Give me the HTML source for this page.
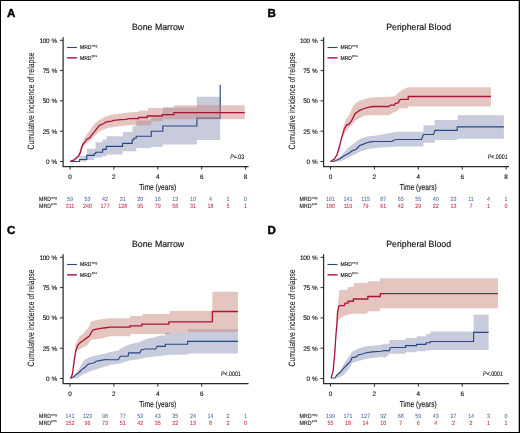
<!DOCTYPE html>
<html><head><meta charset="utf-8"><style>
html,body{margin:0;padding:0;background:#fff;width:520px;height:433px;overflow:hidden}
svg{display:block;will-change:transform}
text{text-rendering:geometricPrecision;font-family:"Liberation Sans", sans-serif}
</style></head><body>
<svg width="520" height="433" viewBox="0 0 520 433" font-family='"Liberation Sans", sans-serif'>
<rect x="0" y="0" width="520" height="433" fill="#fff"/>
<path d="M73,161.5 H79.6 V156 H86.9 V148.8 H95.5 V142.2 H102.6 V139.4 H106.5 V136.25 H122.9 V131.9 H132.5 V126.25 H136.25 V120.6 H151.25 V117.2 H162.8 V107.4 H196.9 V96.8 H220.2 V140 H196.9 V144.4 H162.8 V146.9 H151.25 V148.1 H136.25 V151.25 H122.5 V154.4 H106.5 V156.25 H102 V157.5 H94.25 V160 H86.75 V161.5 Z" fill="#c8cbdc"/>
<path d="M70,161.5 H79.5 V159.5 H86.7 V155.4 H94.25 V153.5 H95.75 V152.25 H102.6 V149.4 H106.2 V146.4 H122.6 V143.3 H132.2 V139.75 H134 V138 H136.25 V136.25 H151.25 V131.25 H162.8 V126 H196.9 V118.1 H220.2 V84.7" fill="none" stroke="#264785" stroke-width="1.15" stroke-linejoin="miter"/>
<path d="M70,161.5 L74,159 L77,156.5 L79,153 L81,146 L82.8,141.2 L86.9,134.2 L91.1,128.6 L95.9,122.3 L100.1,119.4 L104.2,117.3 L109.1,115.3 L113,114.6 L119.25,113.8 L128,112.4 L139,111.8 V110.5 H148 V108 H163 V107.6 H174 V105.2 H244.8 V119.2 H163 V121.2 H151.25 V125.3 H136.25 L128,125.2 L111.9,127.3 L107.7,128 L102.9,129.7 L98,132.5 L93.9,136.7 L89,141.5 L84.2,145 L82,150 L80,156 L77,160 L73,161.5 Z" fill="rgb(200,132,122)" fill-opacity="0.473"/>
<path d="M70,161.5 L72,160.6 L73.8,160.2 L75.6,158.4 L78.6,156 L80.4,152.4 L81.6,147.6 L82.8,144.6 L85.2,141.6 L86.9,139.2 L89.7,137.9 L91.1,135.8 L93.9,132.3 L96.6,128.9 L99.4,125.4 L102.9,124 L106.3,121.9 L111.9,121.1 L113.75,120.4 L120.5,119.7 L126.25,119.3 L128.75,118.6 H138.5 V117.5 H147.3 V116 H162.2 V114.6 H173.9 V112.7 H244.8" fill="none" stroke="#ad1238" stroke-width="1.3" stroke-linejoin="miter"/>
<g transform="translate(0,0)">
<text x="7.10" y="16.80" font-size="11.6" fill="#000"  text-anchor="start" font-weight="bold"  stroke="#000" stroke-width="0.4">A</text>
<text transform="translate(158.1,30.3) scale(0.975,1)" font-size="9" fill="#111" stroke="#111" stroke-width="0.15" text-anchor="middle">Bone Marrow</text>
<text transform="translate(34.2,101) rotate(-90) scale(0.745,1)" font-size="9.2" fill="#111" stroke="#111" stroke-width="0.05" text-anchor="middle">Cumulative incidence of relapse</text>
<path d="M63.1,37.3 V167.1 M62.5,166.5 H248.5" stroke="#2b2b2b" stroke-width="1.25" fill="none"/>
<path d="M60,40.30 H63" stroke="#2b2b2b" stroke-width="1"/>
<text x="56.90" y="42.70" font-size="6.4" fill="#111" stroke="#111" stroke-width="0.12" text-anchor="end" font-weight="normal"  letter-spacing="-0.32" word-spacing="0.9">100 %</text>
<path d="M60,70.60 H63" stroke="#2b2b2b" stroke-width="1"/>
<text x="56.90" y="73.00" font-size="6.4" fill="#111" stroke="#111" stroke-width="0.12" text-anchor="end" font-weight="normal"  letter-spacing="-0.32" word-spacing="0.9">75 %</text>
<path d="M60,100.90 H63" stroke="#2b2b2b" stroke-width="1"/>
<text x="56.90" y="103.30" font-size="6.4" fill="#111" stroke="#111" stroke-width="0.12" text-anchor="end" font-weight="normal"  letter-spacing="-0.32" word-spacing="0.9">50 %</text>
<path d="M60,131.20 H63" stroke="#2b2b2b" stroke-width="1"/>
<text x="56.90" y="133.60" font-size="6.4" fill="#111" stroke="#111" stroke-width="0.12" text-anchor="end" font-weight="normal"  letter-spacing="-0.32" word-spacing="0.9">25 %</text>
<path d="M60,161.50 H63" stroke="#2b2b2b" stroke-width="1"/>
<text x="56.90" y="163.90" font-size="6.4" fill="#111" stroke="#111" stroke-width="0.12" text-anchor="end" font-weight="normal"  letter-spacing="-0.32" word-spacing="0.9">0 %</text>
<path d="M70.00,166.5 V169.6" stroke="#2b2b2b" stroke-width="1"/>
<text x="70.00" y="178.60" font-size="6.4" fill="#111" stroke="#111" stroke-width="0.12" text-anchor="middle" font-weight="normal"  >0</text>
<path d="M113.90,166.5 V169.6" stroke="#2b2b2b" stroke-width="1"/>
<text x="113.90" y="178.60" font-size="6.4" fill="#111" stroke="#111" stroke-width="0.12" text-anchor="middle" font-weight="normal"  >2</text>
<path d="M157.80,166.5 V169.6" stroke="#2b2b2b" stroke-width="1"/>
<text x="157.80" y="178.60" font-size="6.4" fill="#111" stroke="#111" stroke-width="0.12" text-anchor="middle" font-weight="normal"  >4</text>
<path d="M201.70,166.5 V169.6" stroke="#2b2b2b" stroke-width="1"/>
<text x="201.70" y="178.60" font-size="6.4" fill="#111" stroke="#111" stroke-width="0.12" text-anchor="middle" font-weight="normal"  >6</text>
<path d="M245.60,166.5 V169.6" stroke="#2b2b2b" stroke-width="1"/>
<text x="245.60" y="178.60" font-size="6.4" fill="#111" stroke="#111" stroke-width="0.12" text-anchor="middle" font-weight="normal"  >8</text>
<text transform="translate(157.7,190) scale(0.77,1)" font-size="8.6" fill="#111" stroke="#111" stroke-width="0.12" text-anchor="middle">Time (years)</text>
<path d="M67,47.5 H77" stroke="#264785" stroke-width="1.1"/>
<path d="M67,57.85 H77" stroke="#ad1238" stroke-width="1.4"/>
<text transform="translate(80,49.2) scale(0.9,1)" font-size="5.6" fill="#111" stroke="#111" stroke-width="0.12">MRD<tspan font-size="3.7" stroke-width="0.05" dx="0.3" dy="-2.3">neg</tspan></text>
<text transform="translate(80,59.5) scale(0.9,1)" font-size="5.6" fill="#111" stroke="#111" stroke-width="0.12">MRD<tspan font-size="3.7" stroke-width="0.05" dx="0.3" dy="-2.3">pos</tspan></text>
<text transform="translate(230.3,159.1) scale(0.8,1)" font-size="6.6" fill="#111" stroke="#111" stroke-width="0.12"><tspan font-style="italic">P</tspan>=.03</text>
<text transform="translate(39,201.1) scale(0.88,1)" font-size="6" fill="#111" stroke="#111" stroke-width="0.12">MRD<tspan font-size="3.9" stroke-width="0.05" dx="0.3" dy="-2.6">neg</tspan></text>
<text transform="translate(39,207.6) scale(0.88,1)" font-size="6" fill="#111" stroke="#111" stroke-width="0.12">MRD<tspan font-size="3.9" stroke-width="0.05" dx="0.3" dy="-2.6">pos</tspan></text>
<text transform="translate(70.00,201.1) scale(0.9,1)" font-size="6" fill="#4a6aa3" stroke="#4a6aa3" stroke-width="0.04" text-anchor="middle">59</text>
<text transform="translate(70.00,207.6) scale(0.9,1)" font-size="6" fill="#c0284c" stroke="#c0284c" stroke-width="0.04" text-anchor="middle">311</text>
<text transform="translate(87.56,201.1) scale(0.9,1)" font-size="6" fill="#4a6aa3" stroke="#4a6aa3" stroke-width="0.04" text-anchor="middle">53</text>
<text transform="translate(87.56,207.6) scale(0.9,1)" font-size="6" fill="#c0284c" stroke="#c0284c" stroke-width="0.04" text-anchor="middle">240</text>
<text transform="translate(105.12,201.1) scale(0.9,1)" font-size="6" fill="#4a6aa3" stroke="#4a6aa3" stroke-width="0.04" text-anchor="middle">42</text>
<text transform="translate(105.12,207.6) scale(0.9,1)" font-size="6" fill="#c0284c" stroke="#c0284c" stroke-width="0.04" text-anchor="middle">177</text>
<text transform="translate(122.68,201.1) scale(0.9,1)" font-size="6" fill="#4a6aa3" stroke="#4a6aa3" stroke-width="0.04" text-anchor="middle">31</text>
<text transform="translate(122.68,207.6) scale(0.9,1)" font-size="6" fill="#c0284c" stroke="#c0284c" stroke-width="0.04" text-anchor="middle">128</text>
<text transform="translate(140.24,201.1) scale(0.9,1)" font-size="6" fill="#4a6aa3" stroke="#4a6aa3" stroke-width="0.04" text-anchor="middle">20</text>
<text transform="translate(140.24,207.6) scale(0.9,1)" font-size="6" fill="#c0284c" stroke="#c0284c" stroke-width="0.04" text-anchor="middle">95</text>
<text transform="translate(157.80,201.1) scale(0.9,1)" font-size="6" fill="#4a6aa3" stroke="#4a6aa3" stroke-width="0.04" text-anchor="middle">16</text>
<text transform="translate(157.80,207.6) scale(0.9,1)" font-size="6" fill="#c0284c" stroke="#c0284c" stroke-width="0.04" text-anchor="middle">79</text>
<text transform="translate(175.36,201.1) scale(0.9,1)" font-size="6" fill="#4a6aa3" stroke="#4a6aa3" stroke-width="0.04" text-anchor="middle">13</text>
<text transform="translate(175.36,207.6) scale(0.9,1)" font-size="6" fill="#c0284c" stroke="#c0284c" stroke-width="0.04" text-anchor="middle">58</text>
<text transform="translate(192.92,201.1) scale(0.9,1)" font-size="6" fill="#4a6aa3" stroke="#4a6aa3" stroke-width="0.04" text-anchor="middle">10</text>
<text transform="translate(192.92,207.6) scale(0.9,1)" font-size="6" fill="#c0284c" stroke="#c0284c" stroke-width="0.04" text-anchor="middle">31</text>
<text transform="translate(210.48,201.1) scale(0.9,1)" font-size="6" fill="#4a6aa3" stroke="#4a6aa3" stroke-width="0.04" text-anchor="middle">4</text>
<text transform="translate(210.48,207.6) scale(0.9,1)" font-size="6" fill="#c0284c" stroke="#c0284c" stroke-width="0.04" text-anchor="middle">18</text>
<text transform="translate(228.04,201.1) scale(0.9,1)" font-size="6" fill="#4a6aa3" stroke="#4a6aa3" stroke-width="0.04" text-anchor="middle">1</text>
<text transform="translate(228.04,207.6) scale(0.9,1)" font-size="6" fill="#c0284c" stroke="#c0284c" stroke-width="0.04" text-anchor="middle">5</text>
<text transform="translate(245.60,201.1) scale(0.9,1)" font-size="6" fill="#4a6aa3" stroke="#4a6aa3" stroke-width="0.04" text-anchor="middle">0</text>
<text transform="translate(245.60,207.6) scale(0.9,1)" font-size="6" fill="#c0284c" stroke="#c0284c" stroke-width="0.04" text-anchor="middle">1</text>
</g>
<path d="M330.5,161.5 L340,157 L347.4,148.4 L355.5,141.9 L360.4,138.7 L368.5,136.3 L375,135.8 L396.8,131.8 H423.4 V125.2 H434.7 V120.1 H457.7 V115.2 H503.9 V138.7 H457.2 V140 H434.9 V142.8 H423.4 V146.5 L397.7,146.4 L378,147.8 L368.5,149 L360.4,151.6 L352.3,155.7 L344.2,159.7 L340,161.5 Z" fill="#c8cbdc"/>
<path d="M330.5,161.5 L334.5,161.3 L339.3,158.9 L344.2,155.7 L349,153.3 L352.3,150.8 L356.3,149.2 L359.6,145.5 L362.8,144.4 L366.8,142.7 L370.1,141.9 L375,141.5 H392 L393.6,140.2 L396.8,139.5 H421.5 L423.4,134.5 H433.5 L434.9,130.3 H457.2 V126.9 H503.9" fill="none" stroke="#264785" stroke-width="1.15" stroke-linejoin="miter"/>
<path d="M330.5,161.5 L336,158 L340,150 L343.4,127.4 L345.8,119.3 L349,115.2 L352.3,108 L355,103.8 L359.6,100.8 L364.2,99.2 L368.1,98.1 L373.5,97.3 L389.6,96.8 L395.2,96.2 L399.3,92.1 H400.9 V90.5 L408.2,87.3 H490.9 V106.5 H408.2 V108.3 H399.3 V109.1 L396,111.6 L392.8,112.8 L390.4,114.2 L388.8,115.2 H370.4 L364.2,115.8 L359.6,118.1 L355,121.2 L353.9,122.5 L349,127.4 L344.5,134 L342,140 L339,150 L336,158 L333,161.5 Z" fill="rgb(200,132,122)" fill-opacity="0.473"/>
<path d="M330.5,161.5 L334.5,158.9 L336.9,154.9 L339.3,146.8 L341.8,137.1 L344.2,129 L346.6,124.9 L349,124.1 L351.5,120.9 L353.9,116 L355,113.8 L359.6,110.4 L364.2,108.5 L368.1,107.3 L372.7,106.5 H388.8 L390.4,105.1 H394.4 L395.2,103.5 L398.5,102.7 L399.3,100.2 L400.9,99.4 H408.2 V96.5 H490.9" fill="none" stroke="#ad1238" stroke-width="1.3" stroke-linejoin="miter"/>
<g transform="translate(260.5,0)">
<text x="7.10" y="16.80" font-size="11.6" fill="#000"  text-anchor="start" font-weight="bold"  stroke="#000" stroke-width="0.4">B</text>
<text transform="translate(158.1,30.3) scale(0.975,1)" font-size="9" fill="#111" stroke="#111" stroke-width="0.15" text-anchor="middle">Peripheral Blood</text>
<text transform="translate(34.2,101) rotate(-90) scale(0.745,1)" font-size="9.2" fill="#111" stroke="#111" stroke-width="0.05" text-anchor="middle">Cumulative incidence of relapse</text>
<path d="M63.1,37.3 V167.1 M62.5,166.5 H248.5" stroke="#2b2b2b" stroke-width="1.25" fill="none"/>
<path d="M60,40.30 H63" stroke="#2b2b2b" stroke-width="1"/>
<text x="56.90" y="42.70" font-size="6.4" fill="#111" stroke="#111" stroke-width="0.12" text-anchor="end" font-weight="normal"  letter-spacing="-0.32" word-spacing="0.9">100 %</text>
<path d="M60,70.60 H63" stroke="#2b2b2b" stroke-width="1"/>
<text x="56.90" y="73.00" font-size="6.4" fill="#111" stroke="#111" stroke-width="0.12" text-anchor="end" font-weight="normal"  letter-spacing="-0.32" word-spacing="0.9">75 %</text>
<path d="M60,100.90 H63" stroke="#2b2b2b" stroke-width="1"/>
<text x="56.90" y="103.30" font-size="6.4" fill="#111" stroke="#111" stroke-width="0.12" text-anchor="end" font-weight="normal"  letter-spacing="-0.32" word-spacing="0.9">50 %</text>
<path d="M60,131.20 H63" stroke="#2b2b2b" stroke-width="1"/>
<text x="56.90" y="133.60" font-size="6.4" fill="#111" stroke="#111" stroke-width="0.12" text-anchor="end" font-weight="normal"  letter-spacing="-0.32" word-spacing="0.9">25 %</text>
<path d="M60,161.50 H63" stroke="#2b2b2b" stroke-width="1"/>
<text x="56.90" y="163.90" font-size="6.4" fill="#111" stroke="#111" stroke-width="0.12" text-anchor="end" font-weight="normal"  letter-spacing="-0.32" word-spacing="0.9">0 %</text>
<path d="M70.00,166.5 V169.6" stroke="#2b2b2b" stroke-width="1"/>
<text x="70.00" y="178.60" font-size="6.4" fill="#111" stroke="#111" stroke-width="0.12" text-anchor="middle" font-weight="normal"  >0</text>
<path d="M113.90,166.5 V169.6" stroke="#2b2b2b" stroke-width="1"/>
<text x="113.90" y="178.60" font-size="6.4" fill="#111" stroke="#111" stroke-width="0.12" text-anchor="middle" font-weight="normal"  >2</text>
<path d="M157.80,166.5 V169.6" stroke="#2b2b2b" stroke-width="1"/>
<text x="157.80" y="178.60" font-size="6.4" fill="#111" stroke="#111" stroke-width="0.12" text-anchor="middle" font-weight="normal"  >4</text>
<path d="M201.70,166.5 V169.6" stroke="#2b2b2b" stroke-width="1"/>
<text x="201.70" y="178.60" font-size="6.4" fill="#111" stroke="#111" stroke-width="0.12" text-anchor="middle" font-weight="normal"  >6</text>
<path d="M245.60,166.5 V169.6" stroke="#2b2b2b" stroke-width="1"/>
<text x="245.60" y="178.60" font-size="6.4" fill="#111" stroke="#111" stroke-width="0.12" text-anchor="middle" font-weight="normal"  >8</text>
<text transform="translate(157.7,190) scale(0.77,1)" font-size="8.6" fill="#111" stroke="#111" stroke-width="0.12" text-anchor="middle">Time (years)</text>
<path d="M67,47.5 H77" stroke="#264785" stroke-width="1.1"/>
<path d="M67,57.85 H77" stroke="#ad1238" stroke-width="1.4"/>
<text transform="translate(80,49.2) scale(0.9,1)" font-size="5.6" fill="#111" stroke="#111" stroke-width="0.12">MRD<tspan font-size="3.7" stroke-width="0.05" dx="0.3" dy="-2.3">neg</tspan></text>
<text transform="translate(80,59.5) scale(0.9,1)" font-size="5.6" fill="#111" stroke="#111" stroke-width="0.12">MRD<tspan font-size="3.7" stroke-width="0.05" dx="0.3" dy="-2.3">pos</tspan></text>
<text transform="translate(227.3,159.1) scale(0.8,1)" font-size="6.6" fill="#111" stroke="#111" stroke-width="0.12"><tspan font-style="italic">P</tspan><.0001</text>
<text transform="translate(39,201.1) scale(0.88,1)" font-size="6" fill="#111" stroke="#111" stroke-width="0.12">MRD<tspan font-size="3.9" stroke-width="0.05" dx="0.3" dy="-2.6">neg</tspan></text>
<text transform="translate(39,207.6) scale(0.88,1)" font-size="6" fill="#111" stroke="#111" stroke-width="0.12">MRD<tspan font-size="3.9" stroke-width="0.05" dx="0.3" dy="-2.6">pos</tspan></text>
<text transform="translate(70.00,201.1) scale(0.9,1)" font-size="6" fill="#4a6aa3" stroke="#4a6aa3" stroke-width="0.04" text-anchor="middle">161</text>
<text transform="translate(70.00,207.6) scale(0.9,1)" font-size="6" fill="#c0284c" stroke="#c0284c" stroke-width="0.04" text-anchor="middle">180</text>
<text transform="translate(87.56,201.1) scale(0.9,1)" font-size="6" fill="#4a6aa3" stroke="#4a6aa3" stroke-width="0.04" text-anchor="middle">141</text>
<text transform="translate(87.56,207.6) scale(0.9,1)" font-size="6" fill="#c0284c" stroke="#c0284c" stroke-width="0.04" text-anchor="middle">119</text>
<text transform="translate(105.12,201.1) scale(0.9,1)" font-size="6" fill="#4a6aa3" stroke="#4a6aa3" stroke-width="0.04" text-anchor="middle">115</text>
<text transform="translate(105.12,207.6) scale(0.9,1)" font-size="6" fill="#c0284c" stroke="#c0284c" stroke-width="0.04" text-anchor="middle">79</text>
<text transform="translate(122.68,201.1) scale(0.9,1)" font-size="6" fill="#4a6aa3" stroke="#4a6aa3" stroke-width="0.04" text-anchor="middle">87</text>
<text transform="translate(122.68,207.6) scale(0.9,1)" font-size="6" fill="#c0284c" stroke="#c0284c" stroke-width="0.04" text-anchor="middle">61</text>
<text transform="translate(140.24,201.1) scale(0.9,1)" font-size="6" fill="#4a6aa3" stroke="#4a6aa3" stroke-width="0.04" text-anchor="middle">65</text>
<text transform="translate(140.24,207.6) scale(0.9,1)" font-size="6" fill="#c0284c" stroke="#c0284c" stroke-width="0.04" text-anchor="middle">42</text>
<text transform="translate(157.80,201.1) scale(0.9,1)" font-size="6" fill="#4a6aa3" stroke="#4a6aa3" stroke-width="0.04" text-anchor="middle">55</text>
<text transform="translate(157.80,207.6) scale(0.9,1)" font-size="6" fill="#c0284c" stroke="#c0284c" stroke-width="0.04" text-anchor="middle">29</text>
<text transform="translate(175.36,201.1) scale(0.9,1)" font-size="6" fill="#4a6aa3" stroke="#4a6aa3" stroke-width="0.04" text-anchor="middle">40</text>
<text transform="translate(175.36,207.6) scale(0.9,1)" font-size="6" fill="#c0284c" stroke="#c0284c" stroke-width="0.04" text-anchor="middle">22</text>
<text transform="translate(192.92,201.1) scale(0.9,1)" font-size="6" fill="#4a6aa3" stroke="#4a6aa3" stroke-width="0.04" text-anchor="middle">23</text>
<text transform="translate(192.92,207.6) scale(0.9,1)" font-size="6" fill="#c0284c" stroke="#c0284c" stroke-width="0.04" text-anchor="middle">13</text>
<text transform="translate(210.48,201.1) scale(0.9,1)" font-size="6" fill="#4a6aa3" stroke="#4a6aa3" stroke-width="0.04" text-anchor="middle">11</text>
<text transform="translate(210.48,207.6) scale(0.9,1)" font-size="6" fill="#c0284c" stroke="#c0284c" stroke-width="0.04" text-anchor="middle">7</text>
<text transform="translate(228.04,201.1) scale(0.9,1)" font-size="6" fill="#4a6aa3" stroke="#4a6aa3" stroke-width="0.04" text-anchor="middle">4</text>
<text transform="translate(228.04,207.6) scale(0.9,1)" font-size="6" fill="#c0284c" stroke="#c0284c" stroke-width="0.04" text-anchor="middle">1</text>
<text transform="translate(245.60,201.1) scale(0.9,1)" font-size="6" fill="#4a6aa3" stroke="#4a6aa3" stroke-width="0.04" text-anchor="middle">1</text>
<text transform="translate(245.60,207.6) scale(0.9,1)" font-size="6" fill="#c0284c" stroke="#c0284c" stroke-width="0.04" text-anchor="middle">0</text>
</g>
<path d="M70.5,378.5 L75,375 L79,369 L81.6,363.8 L85,359.5 L90.2,356.9 L97.1,355.2 L105.8,353.4 L110,352.1 L118.3,350.7 L121.1,347.9 L129.4,344.5 L140.5,341.7 L146,338.9 L155.7,336.9 L160,335.6 H165 V332.8 H187.7 V329.3 H237.9 V353.5 H187.7 V354.7 H170 L157.1,356.2 L146,357.6 L140.5,359 L129.4,360.4 L121.1,363.2 L110,365 L100.6,368.1 L92,370.7 L83.3,374.2 L76.4,378.5 Z" fill="#c8cbdc"/>
<path d="M70.5,378.5 L71.2,377.7 L73.8,376.8 L76.4,374.2 L79,372.5 L81.6,369.9 L85,367.3 L87.6,364.7 L90.2,363.5 L93.7,363 L96.3,361.2 L100.6,360.4 L105.8,359.5 L110,359.7 H118.3 L120.4,356.2 H128 L128.7,352.8 H139.8 L141.2,350 L145.3,349 H155.7 L157.1,346.3 H165.3 V344.2 H187.7 V341.4 H237.9" fill="none" stroke="#264785" stroke-width="1.15" stroke-linejoin="miter"/>
<path d="M70.5,378.5 L72.5,372 L74.5,358 L75.5,344 L77.2,341.3 L79,337 L83.3,333.5 L88.5,327.5 L91.1,321.4 L97.1,319.7 L105.8,318.8 L110,318.2 H130.1 V316.1 H142.5 V314 H169.5 V311.1 H212.4 V291.8 H237.9 V331.9 H187.7 V332.8 H170 V334.1 H130.8 V334.8 H130.1 V336.2 H110 L100.6,338.7 L92,339.6 L89.4,342.2 L86.8,345.7 L83.3,347.4 L79.8,349.1 L76.4,351.7 L75,360 L73,372 L71.5,378.5 Z" fill="rgb(200,132,122)" fill-opacity="0.473"/>
<path d="M70.5,378.5 L72.1,375.1 L72.9,370.7 L74.7,356.9 L76,350 L78.1,344.8 L80.7,342.2 L83.3,340.5 L86.8,337.9 L89.4,336.1 L91.1,332.7 L92.8,330.1 L96.3,329.2 L100.6,328.4 L107.5,327.5 L110,327.2 H130.1 V325.8 H141.9 V324.1 H168.9 V321.9 H212.4 V311.5 H237.9" fill="none" stroke="#ad1238" stroke-width="1.3" stroke-linejoin="miter"/>
<g transform="translate(0,217)">
<text x="7.10" y="16.80" font-size="11.6" fill="#000"  text-anchor="start" font-weight="bold"  stroke="#000" stroke-width="0.4">C</text>
<text transform="translate(158.1,30.3) scale(0.975,1)" font-size="9" fill="#111" stroke="#111" stroke-width="0.15" text-anchor="middle">Bone Marrow</text>
<text transform="translate(34.2,101) rotate(-90) scale(0.745,1)" font-size="9.2" fill="#111" stroke="#111" stroke-width="0.05" text-anchor="middle">Cumulative incidence of relapse</text>
<path d="M63.1,37.3 V167.1 M62.5,166.5 H248.5" stroke="#2b2b2b" stroke-width="1.25" fill="none"/>
<path d="M60,40.30 H63" stroke="#2b2b2b" stroke-width="1"/>
<text x="56.90" y="42.70" font-size="6.4" fill="#111" stroke="#111" stroke-width="0.12" text-anchor="end" font-weight="normal"  letter-spacing="-0.32" word-spacing="0.9">100 %</text>
<path d="M60,70.60 H63" stroke="#2b2b2b" stroke-width="1"/>
<text x="56.90" y="73.00" font-size="6.4" fill="#111" stroke="#111" stroke-width="0.12" text-anchor="end" font-weight="normal"  letter-spacing="-0.32" word-spacing="0.9">75 %</text>
<path d="M60,100.90 H63" stroke="#2b2b2b" stroke-width="1"/>
<text x="56.90" y="103.30" font-size="6.4" fill="#111" stroke="#111" stroke-width="0.12" text-anchor="end" font-weight="normal"  letter-spacing="-0.32" word-spacing="0.9">50 %</text>
<path d="M60,131.20 H63" stroke="#2b2b2b" stroke-width="1"/>
<text x="56.90" y="133.60" font-size="6.4" fill="#111" stroke="#111" stroke-width="0.12" text-anchor="end" font-weight="normal"  letter-spacing="-0.32" word-spacing="0.9">25 %</text>
<path d="M60,161.50 H63" stroke="#2b2b2b" stroke-width="1"/>
<text x="56.90" y="163.90" font-size="6.4" fill="#111" stroke="#111" stroke-width="0.12" text-anchor="end" font-weight="normal"  letter-spacing="-0.32" word-spacing="0.9">0 %</text>
<path d="M70.00,166.5 V169.6" stroke="#2b2b2b" stroke-width="1"/>
<text x="70.00" y="178.60" font-size="6.4" fill="#111" stroke="#111" stroke-width="0.12" text-anchor="middle" font-weight="normal"  >0</text>
<path d="M113.90,166.5 V169.6" stroke="#2b2b2b" stroke-width="1"/>
<text x="113.90" y="178.60" font-size="6.4" fill="#111" stroke="#111" stroke-width="0.12" text-anchor="middle" font-weight="normal"  >2</text>
<path d="M157.80,166.5 V169.6" stroke="#2b2b2b" stroke-width="1"/>
<text x="157.80" y="178.60" font-size="6.4" fill="#111" stroke="#111" stroke-width="0.12" text-anchor="middle" font-weight="normal"  >4</text>
<path d="M201.70,166.5 V169.6" stroke="#2b2b2b" stroke-width="1"/>
<text x="201.70" y="178.60" font-size="6.4" fill="#111" stroke="#111" stroke-width="0.12" text-anchor="middle" font-weight="normal"  >6</text>
<text transform="translate(157.7,190) scale(0.77,1)" font-size="8.6" fill="#111" stroke="#111" stroke-width="0.12" text-anchor="middle">Time (years)</text>
<path d="M67,47.5 H77" stroke="#264785" stroke-width="1.1"/>
<path d="M67,57.85 H77" stroke="#ad1238" stroke-width="1.4"/>
<text transform="translate(80,49.2) scale(0.9,1)" font-size="5.6" fill="#111" stroke="#111" stroke-width="0.12">MRD<tspan font-size="3.7" stroke-width="0.05" dx="0.3" dy="-2.3">neg</tspan></text>
<text transform="translate(80,59.5) scale(0.9,1)" font-size="5.6" fill="#111" stroke="#111" stroke-width="0.12">MRD<tspan font-size="3.7" stroke-width="0.05" dx="0.3" dy="-2.3">pos</tspan></text>
<text transform="translate(221,159.1) scale(0.8,1)" font-size="6.6" fill="#111" stroke="#111" stroke-width="0.12"><tspan font-style="italic">P</tspan><.0001</text>
<text transform="translate(39,201.1) scale(0.88,1)" font-size="6" fill="#111" stroke="#111" stroke-width="0.12">MRD<tspan font-size="3.9" stroke-width="0.05" dx="0.3" dy="-2.6">neg</tspan></text>
<text transform="translate(39,207.6) scale(0.88,1)" font-size="6" fill="#111" stroke="#111" stroke-width="0.12">MRD<tspan font-size="3.9" stroke-width="0.05" dx="0.3" dy="-2.6">pos</tspan></text>
<text transform="translate(70.00,201.1) scale(0.9,1)" font-size="6" fill="#4a6aa3" stroke="#4a6aa3" stroke-width="0.04" text-anchor="middle">141</text>
<text transform="translate(70.00,207.6) scale(0.9,1)" font-size="6" fill="#c0284c" stroke="#c0284c" stroke-width="0.04" text-anchor="middle">152</text>
<text transform="translate(87.56,201.1) scale(0.9,1)" font-size="6" fill="#4a6aa3" stroke="#4a6aa3" stroke-width="0.04" text-anchor="middle">123</text>
<text transform="translate(87.56,207.6) scale(0.9,1)" font-size="6" fill="#c0284c" stroke="#c0284c" stroke-width="0.04" text-anchor="middle">96</text>
<text transform="translate(105.12,201.1) scale(0.9,1)" font-size="6" fill="#4a6aa3" stroke="#4a6aa3" stroke-width="0.04" text-anchor="middle">98</text>
<text transform="translate(105.12,207.6) scale(0.9,1)" font-size="6" fill="#c0284c" stroke="#c0284c" stroke-width="0.04" text-anchor="middle">73</text>
<text transform="translate(122.68,201.1) scale(0.9,1)" font-size="6" fill="#4a6aa3" stroke="#4a6aa3" stroke-width="0.04" text-anchor="middle">77</text>
<text transform="translate(122.68,207.6) scale(0.9,1)" font-size="6" fill="#c0284c" stroke="#c0284c" stroke-width="0.04" text-anchor="middle">51</text>
<text transform="translate(140.24,201.1) scale(0.9,1)" font-size="6" fill="#4a6aa3" stroke="#4a6aa3" stroke-width="0.04" text-anchor="middle">53</text>
<text transform="translate(140.24,207.6) scale(0.9,1)" font-size="6" fill="#c0284c" stroke="#c0284c" stroke-width="0.04" text-anchor="middle">42</text>
<text transform="translate(157.80,201.1) scale(0.9,1)" font-size="6" fill="#4a6aa3" stroke="#4a6aa3" stroke-width="0.04" text-anchor="middle">43</text>
<text transform="translate(157.80,207.6) scale(0.9,1)" font-size="6" fill="#c0284c" stroke="#c0284c" stroke-width="0.04" text-anchor="middle">35</text>
<text transform="translate(175.36,201.1) scale(0.9,1)" font-size="6" fill="#4a6aa3" stroke="#4a6aa3" stroke-width="0.04" text-anchor="middle">35</text>
<text transform="translate(175.36,207.6) scale(0.9,1)" font-size="6" fill="#c0284c" stroke="#c0284c" stroke-width="0.04" text-anchor="middle">22</text>
<text transform="translate(192.92,201.1) scale(0.9,1)" font-size="6" fill="#4a6aa3" stroke="#4a6aa3" stroke-width="0.04" text-anchor="middle">24</text>
<text transform="translate(192.92,207.6) scale(0.9,1)" font-size="6" fill="#c0284c" stroke="#c0284c" stroke-width="0.04" text-anchor="middle">13</text>
<text transform="translate(210.48,201.1) scale(0.9,1)" font-size="6" fill="#4a6aa3" stroke="#4a6aa3" stroke-width="0.04" text-anchor="middle">14</text>
<text transform="translate(210.48,207.6) scale(0.9,1)" font-size="6" fill="#c0284c" stroke="#c0284c" stroke-width="0.04" text-anchor="middle">8</text>
<text transform="translate(228.04,201.1) scale(0.9,1)" font-size="6" fill="#4a6aa3" stroke="#4a6aa3" stroke-width="0.04" text-anchor="middle">2</text>
<text transform="translate(228.04,207.6) scale(0.9,1)" font-size="6" fill="#c0284c" stroke="#c0284c" stroke-width="0.04" text-anchor="middle">2</text>
<text transform="translate(245.60,201.1) scale(0.9,1)" font-size="6" fill="#4a6aa3" stroke="#4a6aa3" stroke-width="0.04" text-anchor="middle">1</text>
<text transform="translate(245.60,207.6) scale(0.9,1)" font-size="6" fill="#c0284c" stroke="#c0284c" stroke-width="0.04" text-anchor="middle">0</text>
</g>
<path d="M334.5,378 L337,375.5 L338.75,373.1 L343.75,363.75 L346.9,359.4 L351.9,351.9 L357.5,348.75 L366.25,346.25 L380,345 L385,343.75 H389.5 V340 H405.6 V338.1 H416.9 V336.25 H426.25 V334 H430.3 V331.5 H473.6 V314.7 H488.6 V350 H430.3 V350.6 H425.6 V351.25 H416.25 V352.25 H405.6 V353.75 H388.75 V355 L385,357.5 L380,356.9 L366.25,358.75 L357.5,361.25 L351.9,363.1 L350,367.5 L343.75,375 L340,377 L337.5,378 Z" fill="#c8cbdc"/>
<path d="M331.1,378 H335 L336.9,375 L340,372.5 L343.75,368.1 L346.9,365 L350.6,361.25 L351.9,357.75 L356.25,356.9 L358.1,355 L362.5,354 L366.25,352.75 L372.5,351.9 L381.25,351.25 L383.75,350.6 H389.4 L390,348.1 L391.25,347.5 H405.6 V345.6 H416.5 V344.4 H426 V342.75 H430.3 V341.5 H473.6 V332.4 H488.6" fill="none" stroke="#264785" stroke-width="1.15" stroke-linejoin="miter"/>
<path d="M331.1,378 L332.5,372 L334.6,350 L336.2,330 L337.5,312 L338.3,300 L339.4,290 H347.5 V287 H353.75 V283.1 H368.1 V281.25 H380 V278.3 H497.9 V308.3 H380 V311.25 H367.5 V313.75 H352.5 L346.5,315 L343.75,316.25 L340,318.5 L338.75,320 L337.5,324.5 L336.5,334 L334.5,356 L333.1,371 Z" fill="rgb(200,132,122)" fill-opacity="0.473"/>
<path d="M331.1,378 L332.2,374.1 L333.1,371.2 L334.6,355.3 L336,334 L336.9,324 L337.5,312.5 L338.75,306.25 L340,305.6 H344.4 L345,303.1 H348.1 V301.25 H353.4 V299 H367.8 V296.5 H380.3 V293.7 H497.9" fill="none" stroke="#ad1238" stroke-width="1.3" stroke-linejoin="miter"/>
<g transform="translate(260.5,217)">
<text x="7.10" y="16.80" font-size="11.6" fill="#000"  text-anchor="start" font-weight="bold"  stroke="#000" stroke-width="0.4">D</text>
<text transform="translate(158.1,30.3) scale(0.975,1)" font-size="9" fill="#111" stroke="#111" stroke-width="0.15" text-anchor="middle">Peripheral Blood</text>
<text transform="translate(34.2,101) rotate(-90) scale(0.745,1)" font-size="9.2" fill="#111" stroke="#111" stroke-width="0.05" text-anchor="middle">Cumulative incidence of relapse</text>
<path d="M63.1,37.3 V167.1 M62.5,166.5 H248.5" stroke="#2b2b2b" stroke-width="1.25" fill="none"/>
<path d="M60,40.30 H63" stroke="#2b2b2b" stroke-width="1"/>
<text x="56.90" y="42.70" font-size="6.4" fill="#111" stroke="#111" stroke-width="0.12" text-anchor="end" font-weight="normal"  letter-spacing="-0.32" word-spacing="0.9">100 %</text>
<path d="M60,70.60 H63" stroke="#2b2b2b" stroke-width="1"/>
<text x="56.90" y="73.00" font-size="6.4" fill="#111" stroke="#111" stroke-width="0.12" text-anchor="end" font-weight="normal"  letter-spacing="-0.32" word-spacing="0.9">75 %</text>
<path d="M60,100.90 H63" stroke="#2b2b2b" stroke-width="1"/>
<text x="56.90" y="103.30" font-size="6.4" fill="#111" stroke="#111" stroke-width="0.12" text-anchor="end" font-weight="normal"  letter-spacing="-0.32" word-spacing="0.9">50 %</text>
<path d="M60,131.20 H63" stroke="#2b2b2b" stroke-width="1"/>
<text x="56.90" y="133.60" font-size="6.4" fill="#111" stroke="#111" stroke-width="0.12" text-anchor="end" font-weight="normal"  letter-spacing="-0.32" word-spacing="0.9">25 %</text>
<path d="M60,161.50 H63" stroke="#2b2b2b" stroke-width="1"/>
<text x="56.90" y="163.90" font-size="6.4" fill="#111" stroke="#111" stroke-width="0.12" text-anchor="end" font-weight="normal"  letter-spacing="-0.32" word-spacing="0.9">0 %</text>
<path d="M70.00,166.5 V169.6" stroke="#2b2b2b" stroke-width="1"/>
<text x="70.00" y="178.60" font-size="6.4" fill="#111" stroke="#111" stroke-width="0.12" text-anchor="middle" font-weight="normal"  >0</text>
<path d="M113.90,166.5 V169.6" stroke="#2b2b2b" stroke-width="1"/>
<text x="113.90" y="178.60" font-size="6.4" fill="#111" stroke="#111" stroke-width="0.12" text-anchor="middle" font-weight="normal"  >2</text>
<path d="M157.80,166.5 V169.6" stroke="#2b2b2b" stroke-width="1"/>
<text x="157.80" y="178.60" font-size="6.4" fill="#111" stroke="#111" stroke-width="0.12" text-anchor="middle" font-weight="normal"  >4</text>
<path d="M201.70,166.5 V169.6" stroke="#2b2b2b" stroke-width="1"/>
<text x="201.70" y="178.60" font-size="6.4" fill="#111" stroke="#111" stroke-width="0.12" text-anchor="middle" font-weight="normal"  >6</text>
<text transform="translate(157.7,190) scale(0.77,1)" font-size="8.6" fill="#111" stroke="#111" stroke-width="0.12" text-anchor="middle">Time (years)</text>
<path d="M67,47.5 H77" stroke="#264785" stroke-width="1.1"/>
<path d="M67,57.85 H77" stroke="#ad1238" stroke-width="1.4"/>
<text transform="translate(80,49.2) scale(0.9,1)" font-size="5.6" fill="#111" stroke="#111" stroke-width="0.12">MRD<tspan font-size="3.7" stroke-width="0.05" dx="0.3" dy="-2.3">neg</tspan></text>
<text transform="translate(80,59.5) scale(0.9,1)" font-size="5.6" fill="#111" stroke="#111" stroke-width="0.12">MRD<tspan font-size="3.7" stroke-width="0.05" dx="0.3" dy="-2.3">pos</tspan></text>
<text transform="translate(222.6,159.1) scale(0.8,1)" font-size="6.6" fill="#111" stroke="#111" stroke-width="0.12"><tspan font-style="italic">P</tspan><.0001</text>
<text transform="translate(39,201.1) scale(0.88,1)" font-size="6" fill="#111" stroke="#111" stroke-width="0.12">MRD<tspan font-size="3.9" stroke-width="0.05" dx="0.3" dy="-2.6">neg</tspan></text>
<text transform="translate(39,207.6) scale(0.88,1)" font-size="6" fill="#111" stroke="#111" stroke-width="0.12">MRD<tspan font-size="3.9" stroke-width="0.05" dx="0.3" dy="-2.6">pos</tspan></text>
<text transform="translate(70.00,201.1) scale(0.9,1)" font-size="6" fill="#4a6aa3" stroke="#4a6aa3" stroke-width="0.04" text-anchor="middle">199</text>
<text transform="translate(70.00,207.6) scale(0.9,1)" font-size="6" fill="#c0284c" stroke="#c0284c" stroke-width="0.04" text-anchor="middle">55</text>
<text transform="translate(87.56,201.1) scale(0.9,1)" font-size="6" fill="#4a6aa3" stroke="#4a6aa3" stroke-width="0.04" text-anchor="middle">171</text>
<text transform="translate(87.56,207.6) scale(0.9,1)" font-size="6" fill="#c0284c" stroke="#c0284c" stroke-width="0.04" text-anchor="middle">18</text>
<text transform="translate(105.12,201.1) scale(0.9,1)" font-size="6" fill="#4a6aa3" stroke="#4a6aa3" stroke-width="0.04" text-anchor="middle">127</text>
<text transform="translate(105.12,207.6) scale(0.9,1)" font-size="6" fill="#c0284c" stroke="#c0284c" stroke-width="0.04" text-anchor="middle">14</text>
<text transform="translate(122.68,201.1) scale(0.9,1)" font-size="6" fill="#4a6aa3" stroke="#4a6aa3" stroke-width="0.04" text-anchor="middle">92</text>
<text transform="translate(122.68,207.6) scale(0.9,1)" font-size="6" fill="#c0284c" stroke="#c0284c" stroke-width="0.04" text-anchor="middle">10</text>
<text transform="translate(140.24,201.1) scale(0.9,1)" font-size="6" fill="#4a6aa3" stroke="#4a6aa3" stroke-width="0.04" text-anchor="middle">68</text>
<text transform="translate(140.24,207.6) scale(0.9,1)" font-size="6" fill="#c0284c" stroke="#c0284c" stroke-width="0.04" text-anchor="middle">7</text>
<text transform="translate(157.80,201.1) scale(0.9,1)" font-size="6" fill="#4a6aa3" stroke="#4a6aa3" stroke-width="0.04" text-anchor="middle">59</text>
<text transform="translate(157.80,207.6) scale(0.9,1)" font-size="6" fill="#c0284c" stroke="#c0284c" stroke-width="0.04" text-anchor="middle">6</text>
<text transform="translate(175.36,201.1) scale(0.9,1)" font-size="6" fill="#4a6aa3" stroke="#4a6aa3" stroke-width="0.04" text-anchor="middle">43</text>
<text transform="translate(175.36,207.6) scale(0.9,1)" font-size="6" fill="#c0284c" stroke="#c0284c" stroke-width="0.04" text-anchor="middle">4</text>
<text transform="translate(192.92,201.1) scale(0.9,1)" font-size="6" fill="#4a6aa3" stroke="#4a6aa3" stroke-width="0.04" text-anchor="middle">27</text>
<text transform="translate(192.92,207.6) scale(0.9,1)" font-size="6" fill="#c0284c" stroke="#c0284c" stroke-width="0.04" text-anchor="middle">2</text>
<text transform="translate(210.48,201.1) scale(0.9,1)" font-size="6" fill="#4a6aa3" stroke="#4a6aa3" stroke-width="0.04" text-anchor="middle">14</text>
<text transform="translate(210.48,207.6) scale(0.9,1)" font-size="6" fill="#c0284c" stroke="#c0284c" stroke-width="0.04" text-anchor="middle">2</text>
<text transform="translate(228.04,201.1) scale(0.9,1)" font-size="6" fill="#4a6aa3" stroke="#4a6aa3" stroke-width="0.04" text-anchor="middle">3</text>
<text transform="translate(228.04,207.6) scale(0.9,1)" font-size="6" fill="#c0284c" stroke="#c0284c" stroke-width="0.04" text-anchor="middle">1</text>
<text transform="translate(245.60,201.1) scale(0.9,1)" font-size="6" fill="#4a6aa3" stroke="#4a6aa3" stroke-width="0.04" text-anchor="middle">0</text>
<text transform="translate(245.60,207.6) scale(0.9,1)" font-size="6" fill="#c0284c" stroke="#c0284c" stroke-width="0.04" text-anchor="middle">1</text>
</g>
<path d="M0,0 H520 V1 H0 Z M0,0 H1 V433 H0 Z M518.7,0 H520 V433 H518.7 Z M0,431.9 H520 V433 H0 Z" fill="#000"/>
</svg>
</body></html>
